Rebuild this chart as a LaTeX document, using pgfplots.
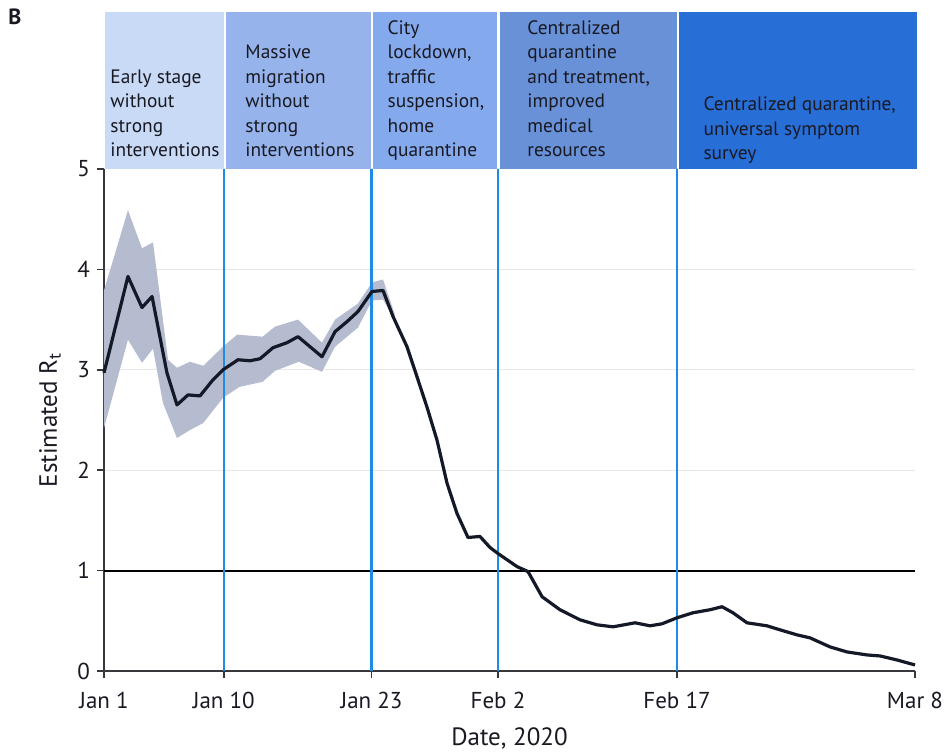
\documentclass[border=0pt]{standalone}
\usepackage{pgfplots}
\pgfplotsset{compat=1.18}
\usepackage{fontspec}
\setmainfont{PT Sans}
\definecolor{boxA}{RGB}{200,218,245}
\definecolor{boxB}{RGB}{150,180,235}
\definecolor{boxC}{RGB}{132,170,237}
\definecolor{boxD}{RGB}{105,145,215}
\definecolor{boxE}{RGB}{40,110,215}
\definecolor{vline}{RGB}{30,140,230}
\definecolor{bandcol}{RGB}{182,188,208}
\definecolor{curvecol}{RGB}{20,25,40}
\definecolor{axisgray}{RGB}{55,55,60}
\definecolor{textdark}{RGB}{25,25,35}
\begin{document}
\begin{tikzpicture}
\path[use as bounding box] (-52pt,-41pt) rectangle (420.5pt,335.5pt);
\begin{axis}[
  at={(0pt,0pt)}, anchor=south west,
  scale only axis, width=405.5pt, height=251pt,
  xmin=0, xmax=67, ymin=0, ymax=5,
  axis x line=bottom, axis y line=left,
  axis line style={-, draw=axisgray, line width=0.8pt},
  xtick={0,9.9,22.1,32.55,47.34,67},
  xticklabels={Jan 1, Jan 10, Jan 23, Feb 2, Feb 17, Mar 8},
  ytick={0,1,2,3,4,5},
  tick align=outside, major tick length=3.5pt,
  tick style={draw=axisgray, line width=0.8pt},
  ymajorgrids, grid style={draw=gray!18, line width=0.5pt},
  clip=false,
  /pgf/number format/assume math mode=true,
  ticklabel style={font=\fontsize{11.5}{13}\selectfont, text=textdark},
  xticklabel style={yshift=-3.5pt},
  xlabel={Date, 2020},
  ylabel={Estimated R\textsubscript{t}},
  label style={font=\fontsize{12.5}{15}\selectfont, text=textdark},
  xlabel style={at={(axis description cs:0.5,0)}, anchor=center, yshift=-33.5pt},
  ylabel style={at={(axis description cs:0,0.5)}, anchor=center, yshift=27pt},
]
% uncertainty band
\addplot[fill=bandcol, draw=none] coordinates {
(0,3.79) (1.98,4.59) (3.14,4.21) (4.05,4.27) (5.29,3.10) (6.03,3.02) (7.1,3.08) (8.2,3.04) (9.83,3.23) (11.0,3.35) (13.1,3.33) (14.13,3.43) (16.03,3.50) (18.01,3.27) (19.09,3.50) (20.98,3.66) (22.14,3.87) (23.05,3.90) (24.0,3.56)
(24.0,3.50) (23.05,3.70) (22.14,3.69) (20.98,3.42) (19.09,3.23) (18.01,2.98) (16.1,3.08) (14.13,2.99) (13.1,2.88) (11.2,2.83) (9.83,2.72) (8.2,2.47) (7.1,2.40) (6.03,2.32) (4.87,2.67) (4.05,3.21) (3.14,3.07) (1.98,3.30) (0,2.42)
};
% reference line R=1
\addplot[black, line width=1pt] coordinates {(0,1) (67,1)};
% intervention lines
\addplot[vline, line width=1.1pt] coordinates {(9.9,0) (9.9,5)};
\addplot[vline, line width=1.1pt] coordinates {(22.1,0) (22.1,5)};
\addplot[vline, line width=1.1pt] coordinates {(32.55,0) (32.55,5)};
\addplot[vline, line width=1.1pt] coordinates {(47.34,0) (47.34,5)};
% estimated Rt
\addplot[curvecol, line width=1.6pt, line join=round] coordinates {
(0,2.97) (1.98,3.93) (3.14,3.62) (3.97,3.73) (5.20,2.97) (6.03,2.65) (6.94,2.75) (7.93,2.74) (9.00,2.90) (9.83,3.00) (11.07,3.10) (12.06,3.09) (12.89,3.11) (13.96,3.22) (15.12,3.27) (16.03,3.33) (17.02,3.23) (18.01,3.13) (19.09,3.38) (20.08,3.48) (20.98,3.58) (22.14,3.78) (23.05,3.79) (23.88,3.53) (25.03,3.23) (25.86,2.93) (26.68,2.63) (27.51,2.30) (28.34,1.87) (29.16,1.57) (30.07,1.33) (31.06,1.34) (31.89,1.23) (32.55,1.17) (34.12,1.04) (35.03,0.99) (36.19,0.74) (37.67,0.61) (39.32,0.51) (40.73,0.46) (42.05,0.44) (43.87,0.48) (45.11,0.45) (46.10,0.47) (47.34,0.53) (48.66,0.58) (50.06,0.61) (51.06,0.64) (51.96,0.58) (53.12,0.48) (54.77,0.45) (55.85,0.41) (57.25,0.36) (58.33,0.33) (59.98,0.24) (61.38,0.19) (63.03,0.16) (64.11,0.15) (65.51,0.11) (67.00,0.06)
};
% phase boxes
\fill[boxA] (axis cs:0.05,4.995) rectangle (axis cs:9.95,6.56);
\fill[boxB] (axis cs:10.12,4.995) rectangle (axis cs:22.02,6.56);
\fill[boxC] (axis cs:22.2,4.995) rectangle (axis cs:32.48,6.56);
\fill[boxD] (axis cs:32.7,4.995) rectangle (axis cs:47.3,6.56);
\fill[boxE] (axis cs:47.5,4.995) rectangle (axis cs:67.15,6.56);
\tikzset{boxtxt/.style={anchor=base west, inner sep=0pt, text=textdark, font=\fontsize{9.7}{12.25}\selectfont}}
\node[boxtxt] at (axis cs:0.5,5.12) {\begin{tabular}[b]{@{}l@{}}Early stage\\without\\strong\\interventions\end{tabular}};
\node[boxtxt] at (axis cs:11.65,5.12) {\begin{tabular}[b]{@{}l@{}}Massive\\migration\\without\\strong\\interventions\end{tabular}};
\node[boxtxt] at (axis cs:23.4,5.12) {\begin{tabular}[b]{@{}l@{}}City\\lockdown,\\traffic\\suspension,\\home\\quarantine\end{tabular}};
\node[boxtxt] at (axis cs:34.95,5.12) {\begin{tabular}[b]{@{}l@{}}Centralized\\quarantine\\and treatment,\\improved\\medical\\resources\end{tabular}};
\node[boxtxt] at (axis cs:49.5,5.09) {\begin{tabular}[b]{@{}l@{}}Centralized quarantine,\\universal symptom\\survey\end{tabular}};
\end{axis}
\node[font=\bfseries\fontsize{11}{13}\selectfont, text=textdark] at (-44.5pt,327pt) {B};
\end{tikzpicture}
\end{document}
